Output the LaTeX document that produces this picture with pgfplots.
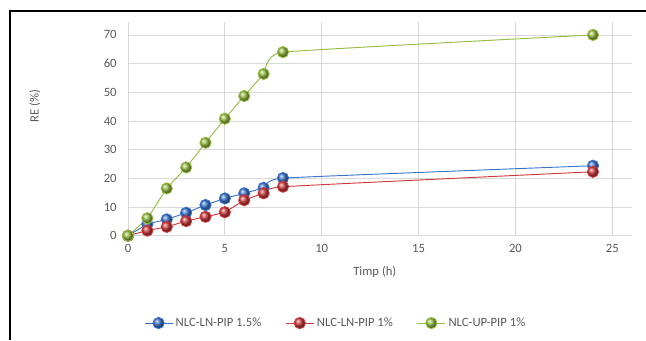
\documentclass[border=0pt]{standalone}
\usepackage{pgfplots}
\pgfplotsset{compat=1.18}
\usepackage{fontspec}
\setmainfont{Carlito}
\definecolor{serblue}{HTML}{3A74CC}
\definecolor{serred}{HTML}{CC3A3C}
\definecolor{sergreen}{HTML}{96BC42}
\definecolor{gridgray}{HTML}{D9D9D9}
\definecolor{txtgray}{HTML}{595959}
\newcommand{\chartfont}{\fontsize{9.5}{11}\selectfont}

\pgfplotstableread{
t    ln15  ln1  up1
0    0.0   0.0  0.0
1    4.0   1.8  6.1
2    5.7   3.1  16.5
3    8.0   5.1  23.8
4    10.7  6.6  32.4
5    13.0  8.2  40.8
6    14.8  12.4 48.7
7    16.7  14.8 56.4
8    20.1  17.1 64.0
24   24.4  22.3 70.0
}\release

\begin{document}
\begin{tikzpicture}
% page: 646 x 340 px, 1 px = 0.75 pt
\useasboundingbox (0,0) rectangle (484.5pt,255pt);
\draw[line width=1.3pt,black] (7.5pt,0pt) -- (7.5pt,246.75pt) -- (484.5pt,246.75pt);
\begin{axis}[
  at={(96pt,78.2pt)}, anchor=south west,
  scale only axis, width=377.8pt, height=160.5pt,
  xmin=0, xmax=26, ymin=0, ymax=74.6,
  xtick={0,5,...,25}, ytick={0,10,...,70},
  axis line style={draw=none},
  major tick length=0pt,
  grid=major,
  major grid style={gridgray, line width=0.6pt},
  clip=false,
  tick label style={font=\chartfont, text=txtgray},
  /pgf/number format/assume math mode=true,
  xticklabel style={yshift=-3pt},
  yticklabel style={xshift=-5pt},
  xlabel={Timp (h)},
  ylabel={RE (\%)},
  every axis x label/.style={at={(axis description cs:0.49,-0.17)}, anchor=center,
    font=\chartfont, text=txtgray},
  every axis y label/.style={at={(axis description cs:-0.185,0.606)}, rotate=90, anchor=center,
    font=\chartfont, text=txtgray},
  legend style={at={(axis description cs:0.413,-0.408)}, anchor=center,
    draw=none, fill=none, legend columns=-1,
    font=\chartfont, text=txtgray,
    /tikz/every even column/.append style={column sep=16pt}},
  legend image code/.code={
    \draw[#1] (0pt,0pt) -- (21pt,0pt);
    \draw[#1,mark repeat=1] plot coordinates {(10.5pt,0pt)};
  },
]
\addplot[serblue, line width=0.7pt, smooth, tension=0.2, mark=ball, mark size=4.2pt,
  mark options={ball color=serblue}] table[x=t, y=ln15] {\release};
\addlegendentry{NLC-LN-PIP 1.5\%}
\addplot[serred, line width=0.7pt, smooth, tension=0.2, mark=ball, mark size=4.2pt,
  mark options={ball color=serred}] table[x=t, y=ln1] {\release};
\addlegendentry{NLC-LN-PIP 1\%}
\addplot[sergreen, line width=0.7pt, smooth, tension=0.2, mark=ball, mark size=4.2pt,
  mark options={ball color=sergreen}] table[x=t, y=up1] {\release};
\addlegendentry{NLC-UP-PIP 1\%}
\end{axis}
\end{tikzpicture}
\end{document}
